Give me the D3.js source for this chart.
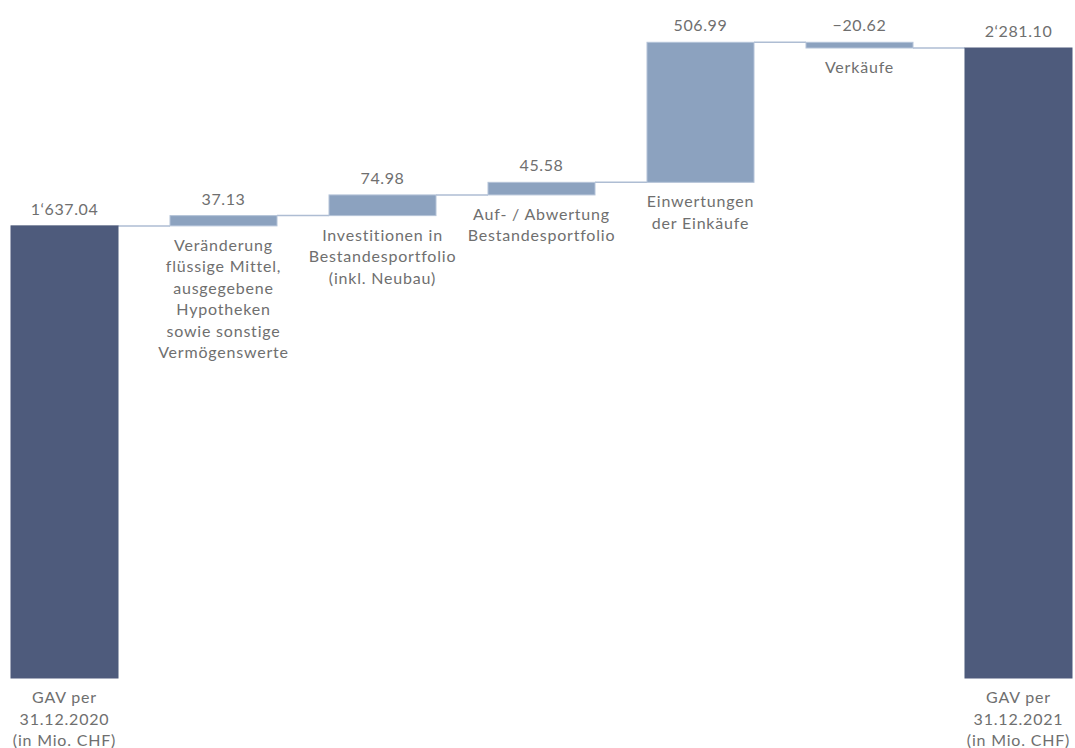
<!DOCTYPE html>
<html><head><meta charset="utf-8">
<script src="https://cdn.jsdelivr.net/npm/d3@7"></script>
<style>
html,body{margin:0;padding:0;background:#fff;}
svg{display:block;}
text{font-family:"Lato","Noto Sans",sans-serif;fill:#6f6f6f;font-size:16px;letter-spacing:0.8px;}
</style></head><body>
<svg id="chart" width="1075" height="748"></svg>
<script>
const categories = [
  ["GAV per","31.12.2020","(in Mio. CHF)"],
  ["Veränderung","flüssige Mittel,","ausgegebene","Hypotheken","sowie sonstige","Vermögenswerte"],
  ["Investitionen in","Bestandesportfolio","(inkl. Neubau)"],
  ["Auf- / Abwertung","Bestandesportfolio"],
  ["Einwertungen","der Einkäufe"],
  ["Verkäufe"],
  ["GAV per","31.12.2021","(in Mio. CHF)"]
];
const values = [1637.04, 37.13, 74.98, 45.58, 506.99, -20.62, 2281.10];
const valueLabels = ["1‘637.04","37.13","74.98","45.58","506.99","−20.62","2‘281.10"];
const isTotal = [true,false,false,false,false,false,true];

const svg = d3.select("#chart");
const x = d3.scaleBand().domain(d3.range(values.length)).range([11,1072]).paddingInner(0.327).paddingOuter(0);
const y = d3.scaleLinear().domain([0,2281.10]).range([678,48]);

let cum = 0;
const bars = values.map((v,i)=>{
  let start, end;
  if(isTotal[i]){ start=0; end=v; cum=v; }
  else { start=cum; end=cum+v; cum=end; }
  return {i, v, start, end, lo:Math.min(start,end), hi:Math.max(start,end), level:cum};
});

svg.append("g").selectAll("line").data(bars.slice(0,-1)).join("line")
  .attr("x1", d=>x(d.i)+x.bandwidth())
  .attr("x2", d=>x(d.i+1))
  .attr("y1", d=>y(d.level)).attr("y2", d=>y(d.level))
  .attr("stroke","#aebdd3").attr("stroke-width",1.5);

svg.append("g").selectAll("rect").data(bars).join("rect")
  .attr("x", d=>x(d.i))
  .attr("width", x.bandwidth())
  .attr("y", d=>y(d.hi))
  .attr("height", d=>y(d.lo)-y(d.hi))
  .attr("fill", d=>isTotal[d.i] ? "#4e5b7c" : "#8ca2bf")
  .attr("stroke", d=>isTotal[d.i] ? "#4e5b7c" : "#b4c3d8")
  .attr("stroke-width",1);

svg.append("g").selectAll("text").data(bars).join("text")
  .attr("x", d=>x(d.i)+x.bandwidth()/2)
  .attr("y", d=>y(d.hi)-11)
  .attr("text-anchor","middle")
  .style("font-size","16px")
  .style("letter-spacing","0.6px")
  .text(d=>valueLabels[d.i]);

const cg = svg.append("g").selectAll("text").data(bars).join("text")
  .attr("text-anchor","middle")
  .attr("x", d=>x(d.i)+x.bandwidth()/2)
  .attr("y", d=>y(d.lo)+25);
cg.selectAll("tspan").data(d=>categories[d.i].map(t=>({t, cx:x(d.i)+x.bandwidth()/2}))).join("tspan")
  .attr("x", d=>d.cx)
  .attr("dy", (d,j)=> j===0 ? 0 : 21.5)
  .text(d=>d.t);
</script>
</body></html>
